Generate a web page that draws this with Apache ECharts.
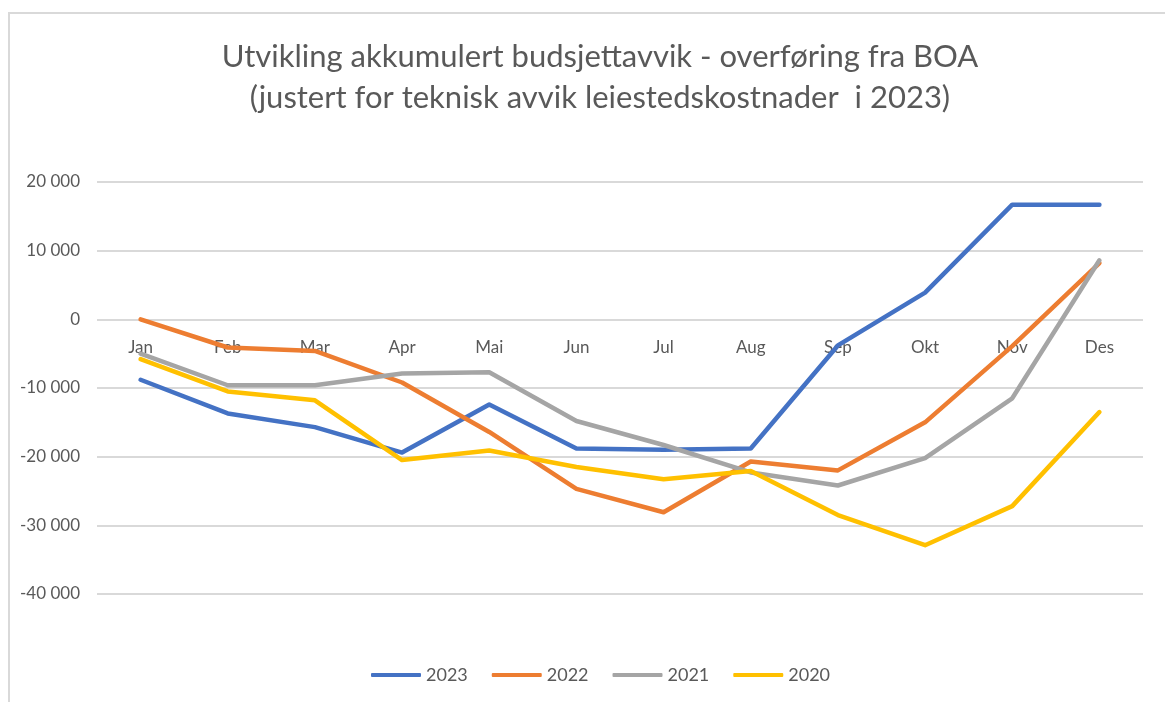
<!DOCTYPE html>
<html>
<head>
<meta charset="utf-8">
<script src="https://cdn.jsdelivr.net/npm/echarts@6/dist/echarts.min.js"></script>
<style>
  html, body { margin: 0; padding: 0; background: #fff; }
  #frame {
    position: absolute; left: 8px; top: 12px; width: 1300px; height: 800px;
    border-left: 2px solid #d9d9d9; border-top: 2px solid #d9d9d9;
  }
  #lineChart { position: absolute; left: 0; top: 0; width: 1165px; height: 702px; }
</style>
</head>
<body>
<div id="frame"></div>
<div id="lineChart"></div>
<script>
const months = ['Jan', 'Feb', 'Mar', 'Apr', 'Mai', 'Jun', 'Jul', 'Aug', 'Sep', 'Okt', 'Nov', 'Des']
const years = ['2023', '2022', '2021', '2020']
const avvik2023 = [-8800, -13700, -15700, -19400, -12400, -18800, -19000, -18800, -3800, 3900, 16700, 16700]
const avvik2022 = [0, -4100, -4600, -9200, -16400, -24700, -28100, -20700, -22000, -15000, -3900, 8200]
const avvik2021 = [-5000, -9600, -9600, -7900, -7700, -14800, -18300, -22300, -24200, -20200, -11500, 8600]
const avvik2020 = [-5800, -10500, -11800, -20500, -19100, -21500, -23300, -22100, -28500, -32900, -27200, -13500]
const colors = ['#4472C4', '#ED7D31', '#A5A5A5', '#FFC000']

const seriesData = [avvik2023, avvik2022, avvik2021, avvik2020]
const font = 'Lato, "Open Sans", sans-serif'

const lineChart = echarts.init(document.querySelector('#lineChart'))

lineChart.setOption({
  color: colors,
  textStyle: { fontFamily: font },
  title: {
    text: 'Utvikling akkumulert budsjettavvik - overføring fra BOA\n(justert for teknisk avvik leiestedskostnader  i 2023)',
    left: 595,
    textAlign: 'center',
    top: 31,
    textStyle: {
      color: '#595959',
      fontSize: 31,
      fontWeight: 'normal',
      lineHeight: 41,
      fontFamily: font
    }
  },
  legend: {
    bottom: 13,
    left: 366,
    itemWidth: 50,
    itemHeight: 4,
    itemGap: 24,
    icon: 'roundRect',
    textStyle: { color: '#595959', fontSize: 18, fontFamily: font },
    data: years
  },
  grid: {
    left: 97,
    right: 22,
    top: 182,
    bottom: 108
  },
  xAxis: {
    type: 'category',
    data: months,
    boundaryGap: true,
    position: 'bottom',
    offset: -275,
    axisLine: { show: false },
    axisTick: { show: false },
    axisLabel: {
      color: '#595959',
      fontSize: 17,
      margin: 20,
      fontFamily: font
    }
  },
  yAxis: {
    type: 'value',
    min: -40000,
    max: 20000,
    interval: 10000,
    axisLine: { show: false },
    axisTick: { show: false },
    splitLine: { lineStyle: { color: '#d9d9d9', width: 2 } },
    axisLabel: {
      color: '#595959',
      fontSize: 17,
      margin: 17,
      fontFamily: font,
      formatter: (v) => {
        const s = Math.abs(v).toString().replace(/\B(?=(\d{3})+(?!\d))/g, ' ')
        return (v < 0 ? '-' : '') + s
      }
    }
  },
  series: years.map((y, i) => ({
    name: y,
    type: 'line',
    data: seriesData[i],
    symbol: 'none',
    lineStyle: { width: 4.5, cap: 'round', join: 'round' }
  }))
})
</script>
</body>
</html>
